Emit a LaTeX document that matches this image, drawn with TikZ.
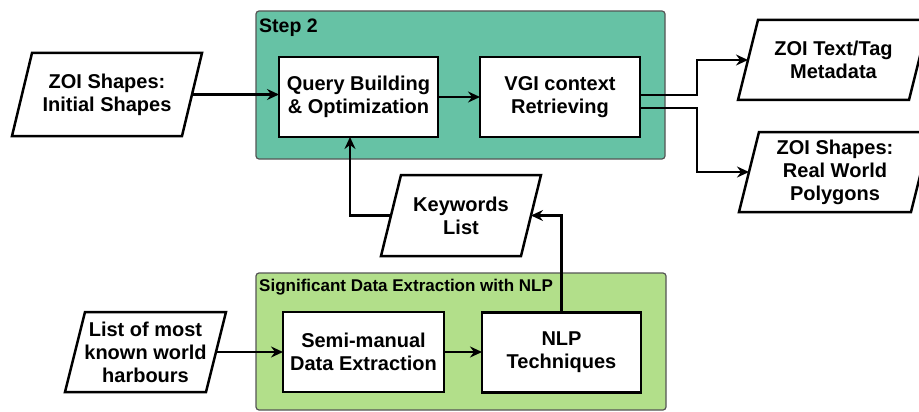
\documentclass[tikz,border=0pt]{standalone}
\usepackage{fontspec}
\setmainfont{Liberation Sans}
\usetikzlibrary{arrows.meta}

\definecolor{steptwo}{HTML}{66C2A5}
\definecolor{nlpgreen}{HTML}{B2DF8A}
\definecolor{framegray}{HTML}{555555}

\tikzset{
  base/.style={align=center, font=\bfseries\fontsize{20}{23}\selectfont,
    inner sep=0pt, outer sep=0pt, rectangle},
  procbox/.style={base, draw=black, line width=2.5pt, fill=white,
    minimum width=#1, minimum height=80pt},
  % data box: slanted outline drawn over the node's frame, 20pt skew
  iobox/.style 2 args={base, minimum width=#1, minimum height=#2,
    append after command={\pgfextra{\let\iothis\tikzlastnode
      \draw[black, line width=2.5pt, line join=miter]
        ([xshift=20pt]\iothis.north west) -- (\iothis.north east)
        -- ([xshift=-20pt]\iothis.south east) -- (\iothis.south west) -- cycle;}}},
  container/.style={draw=framegray, line width=1.2pt, rounded corners=3pt},
  flow/.style={draw=black, line width=2.3pt,
    -{Stealth[length=12pt, width=11pt, inset=4pt]}},
  grouplabel/.style={anchor=base west, inner sep=0pt, font=\bfseries\fontsize{#1}{#1}\selectfont}
}

\begin{document}
\begin{tikzpicture}[x=1pt, y=-1pt]
  \useasboundingbox (0,0) rectangle (919,412);
  \fill[white] (0,0) rectangle (919,412);

  % grouping panels
  \draw[container, fill=steptwo] (256,11) rectangle (665,159);
  \node[grouplabel=19.5] (steplabel) at (259,33) {Step 2};
  \draw[container, fill=nlpgreen] (256,273) rectangle (666,410);
  \node[grouplabel=17] (nlplabel) at (259,291) {Significant Data Extraction with NLP};

  % processing steps
  \node[procbox=159pt] (q) at (358.5,97) {Query Building\\\& Optimization};
  \node[procbox=160pt] (v) at (560,97) {VGI context\\Retrieving};
  \node[procbox=161pt] (semi) at (363.5,352) {Semi-manual\\Data Extraction};
  \node[procbox=159pt] (nlp) at (561.5,352.5) {NLP\\Techniques};

  % inputs and outputs
  \node[iobox={190pt}{83pt}] (zoi) at (107,94.5) {ZOI Shapes:\\Initial Shapes};
  \node[iobox={191pt}{80pt}] (tag) at (833.5,60) {ZOI Text/Tag\\Metadata};
  \node[iobox={192pt}{80pt}] (poly) at (835,172) {ZOI Shapes:\\Real World\\Polygons};
  \node[iobox={160pt}{81pt}] (kw) at (461,215.5) {Keywords\\List};
  \node[iobox={161pt}{80pt}] (harb) at (145.5,352) {List of most\\known world\\harbours};

  % connectors (slanted sides meet mid-height 10pt inside the frame)
  \draw[flow] ([xshift=-10pt]zoi.east) -- (q.west |- zoi.east);
  \draw[flow] (q.east) -- (v.west);
  \draw[flow] ([yshift=2pt]v.east) -- ++(57,0) |- ([xshift=10pt]tag.west);
  \draw[flow] ([yshift=-11pt]v.east) -- ++(57,0) |- ([xshift=10pt]poly.west);
  \draw[flow] ([xshift=10pt]kw.west) -| ([xshift=-8.5pt]q.south);
  \draw[flow] ([xshift=-10pt]harb.east) -- (semi.west |- harb.east);
  \draw[flow] (semi.east) -- (nlp.west |- semi.east);
  \draw[flow] (nlp.north) |- ([xshift=-10pt]kw.east);
\end{tikzpicture}
\end{document}
